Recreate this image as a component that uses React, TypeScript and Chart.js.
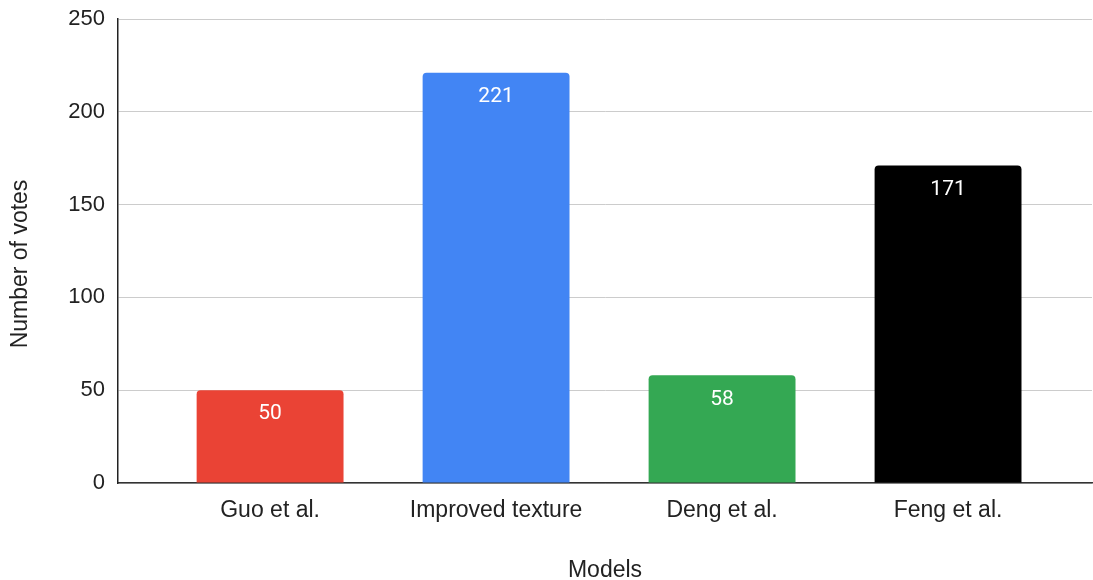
import React, { useEffect, useRef } from "react";
import { Chart, registerables } from "chart.js";

Chart.register(...registerables);

const models = ["Guo et al.", "Improved texture", "Deng et al.", "Feng et al."];
const votes = [50, 221, 58, 171];
const barColors = ["#EA4335", "#4285F4", "#34A853", "#000000"];
const yTicks = [0, 50, 100, 150, 200, 250];

const AXIS_FONT = "'Liberation Sans', Arial, sans-serif";

// Writes each bar's value in white just below its top edge.
const valueLabels = {
  id: "valueLabels",
  afterDatasetsDraw(chart: any) {
    const ctx = chart.ctx;
    const meta = chart.getDatasetMeta(0);
    ctx.save();
    ctx.fillStyle = "#ffffff";
    ctx.font = "21px Roboto, 'Noto Sans', sans-serif";
    ctx.textAlign = "center";
    ctx.textBaseline = "middle";
    meta.data.forEach((bar: any, i: number) => {
      ctx.fillText(String(votes[i]), bar.x, bar.y + 24);
    });
    ctx.restore();
  },
};

// Rotated y-axis title, placed on its own.
const yTitle = {
  id: "yTitle",
  afterDraw(chart: any) {
    const ctx = chart.ctx;
    ctx.save();
    ctx.translate(21, 264);
    ctx.rotate(-Math.PI / 2);
    ctx.fillStyle = "#222222";
    ctx.font = `23px ${AXIS_FONT}`;
    ctx.textAlign = "center";
    ctx.textBaseline = "middle";
    ctx.fillText("Number of votes", 0, 0);
    ctx.restore();
  },
};

export default function App() {
  const canvasRef = useRef<HTMLCanvasElement | null>(null);

  useEffect(() => {
    if (!canvasRef.current) return;
    const chart = new Chart(canvasRef.current, {
      type: "bar",
      data: {
        datasets: [
          {
            data: votes.map((v, i) => ({ x: i, y: v })),
            backgroundColor: barColors,
            borderRadius: { topLeft: 4, topRight: 4, bottomLeft: 0, bottomRight: 0 },
            borderSkipped: "bottom",
            barPercentage: 0.65,
            categoryPercentage: 1,
          },
        ],
      },
      options: {
        responsive: false,
        animation: false,
        layout: { padding: { top: 19, right: 1, left: 0, bottom: 0 } },
        plugins: {
          legend: { display: false },
          tooltip: { enabled: false },
        },
        scales: {
          x: {
            type: "linear",
            offset: false,
            min: -0.673,
            max: 3.637,
            afterBuildTicks: (scale: any) => {
              scale.ticks = models.map((_, i) => ({ value: i }));
            },
            afterFit: (scale: any) => {
              scale.height = 97;
              scale.paddingLeft = 0;
              scale.paddingRight = 0;
            },
            grid: { display: false, drawTicks: false, offset: false },
            border: { display: true, color: "#333333", width: 1.5 },
            ticks: {
              padding: 14,
              color: "#222222",
              font: { family: AXIS_FONT, size: 23 },
              autoSkip: false,
              maxRotation: 0,
              callback: (v: any) => models[v] ?? "",
            },
            title: {
              display: true,
              text: "Models",
              color: "#222222",
              font: { family: AXIS_FONT, size: 23, lineHeight: 0.8 },
              padding: { top: 0, bottom: 0 },
            },
          },
          y: {
            min: 0,
            max: 250,
            afterBuildTicks: (scale: any) => {
              scale.ticks = yTicks.map((v) => ({ value: v }));
            },
            afterFit: (scale: any) => {
              scale.width = 118;
              scale.paddingTop = 0;
              scale.paddingBottom = 0;
            },
            grid: { color: "#cccccc", lineWidth: 1, drawTicks: false },
            border: { display: true, color: "#222222", width: 1.5 },
            ticks: {
              padding: 13,
              color: "#222222",
              font: { family: AXIS_FONT, size: 22 },
            },
          },
        },
      },
      plugins: [valueLabels, yTitle],
    });
    return () => chart.destroy();
  }, []);

  return (
    <div style={{ position: "fixed", left: 0, top: 0, width: 1093, height: 580, background: "#ffffff" }}>
      <canvas ref={canvasRef} width={1093} height={580} style={{ width: 1093, height: 580, display: "block" }} />
    </div>
  );
}
